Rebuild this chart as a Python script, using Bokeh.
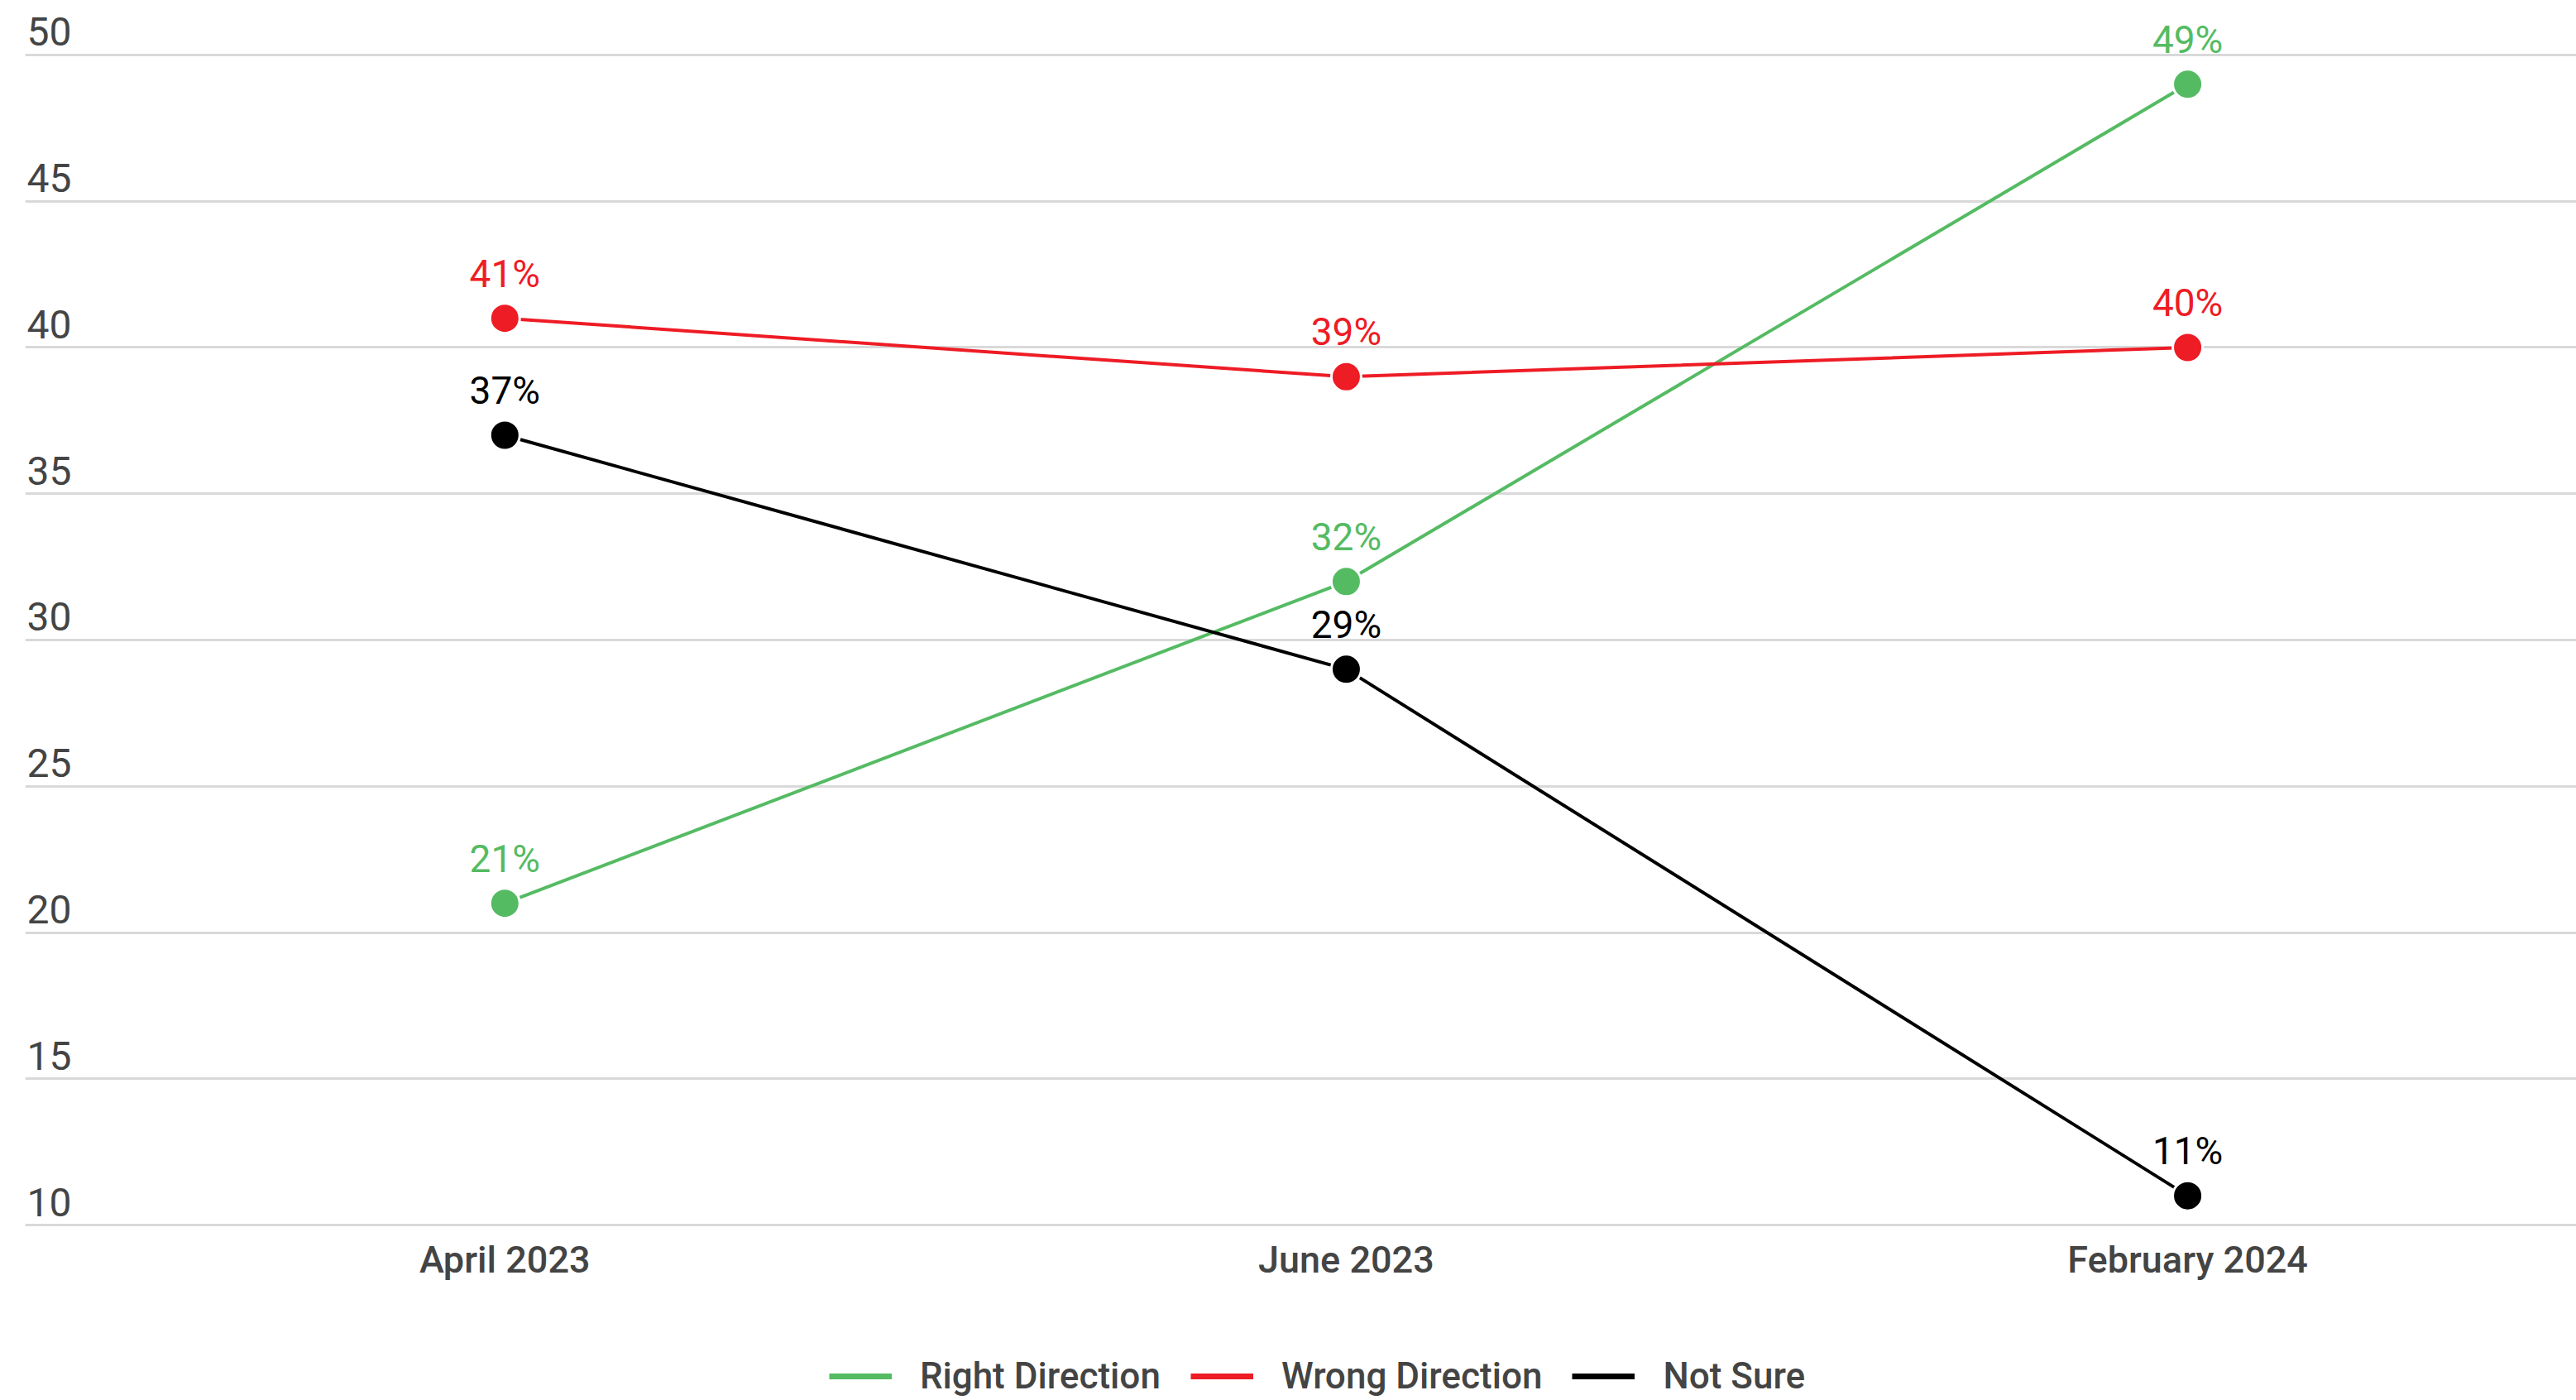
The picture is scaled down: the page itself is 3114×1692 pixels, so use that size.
from bokeh.plotting import figure
from bokeh.models import Range1d, FixedTicker, Grid, Legend, LegendItem, ColumnDataSource
from bokeh.layouts import column
from bokeh.core.properties import value
from bokeh.embed import file_html
from bokeh.resources import INLINE

categories = ["April 2023", "June 2023", "February 2024"]
right_direction = [21, 32, 49]
wrong_direction = [41, 39, 40]
not_sure = [37, 29, 11]
y_ticks = [10, 15, 20, 25, 30, 35, 40, 45, 50]
y_tick_labels = ["10", "15", "20", "25", "30", "35", "40", "45", "50"]

series = [
    ("Right Direction", right_direction, "#55BB63"),
    ("Wrong Direction", wrong_direction, "#EE1C25"),
    ("Not Sure", not_sure, "#000000"),
]

MEDIUM = "Roboto Medium"
X_START, X_END = -0.570, 2.462
Y_START, Y_END = 9.859, 51.64

p = figure(width=3114, height=1570, output_backend="svg", toolbar_location=None,
           x_range=Range1d(X_START, X_END), y_range=Range1d(Y_START, Y_END),
           y_axis_location=None, min_border_left=30, min_border_right=0,
           min_border_top=8, min_border_bottom=85)
p.outline_line_color = None
p.background_fill_color = "white"
p.xgrid.visible = False

grid = Grid(dimension=1, ticker=FixedTicker(ticks=y_ticks),
            grid_line_color="#D9D9D9", grid_line_width=3)
p.add_layout(grid)

xs = list(range(len(categories)))
ax = p.xaxis[0]
ax.ticker = FixedTicker(ticks=xs)
ax.major_label_overrides = {i: c for i, c in enumerate(categories)}
ax.axis_line_color = None
ax.major_tick_line_color = None
ax.minor_tick_line_color = None
ax.major_tick_out = 0
ax.major_tick_in = 0
ax.major_label_standoff = 10
ax.major_label_text_font = MEDIUM
ax.major_label_text_font_size = "45px"
ax.major_label_text_color = "#444444"

# y tick labels, sitting above the grid lines at the left edge
ysrc = ColumnDataSource(dict(x=[X_START] * len(y_ticks), y=y_ticks, t=y_tick_labels))
p.text(x="x", y="y", text="t", source=ysrc, x_offset=2, y_offset=-28,
       text_align="left", text_baseline="alphabetic",
       text_font=value("Roboto"), text_font_size="48px", text_color="#444444")

items = []
lf = figure(width=3114, height=122, output_backend="svg", toolbar_location=None,
            x_range=Range1d(-100, -99), y_range=Range1d(-100, -99),
            x_axis_location=None, y_axis_location=None,
            min_border=0, min_border_left=0, min_border_right=0,
            min_border_top=0, min_border_bottom=0)
lf.outline_line_color = None
lf.xgrid.visible = False
lf.ygrid.visible = False

for name, vals, color in series:
    src = ColumnDataSource(dict(x=xs, y=vals, lab=[f"{v}%" for v in vals]))
    p.line(x="x", y="y", source=src, line_color=color, line_width=4)
    p.scatter(x="x", y="y", source=src, size=36, fill_color=color,
              line_color="white", line_width=3)
    p.text(x="x", y="y", text="lab", source=src, y_offset=-54,
           text_align="center", text_baseline="alphabetic",
           text_font=value("Roboto"), text_font_size="46px", text_color=color)
    # same series in the legend strip (outside its visible range): only its legend glyph shows
    leg = lf.line(x="x", y="y", source=src, line_color=color, line_width=7)
    items.append(LegendItem(label=name, renderers=[leg]))

legend = Legend(items=items, orientation="horizontal", location=(972, 3),
                padding=0, margin=0, spacing=36, label_standoff=34,
                glyph_width=76, glyph_height=50, label_height=50,
                label_text_font=MEDIUM,
                label_text_font_size="44px", label_text_color="#444444",
                border_line_color=None, background_fill_alpha=0)
lf.add_layout(legend, "center")

layout = column(p, lf, spacing=0)
open("out.html", "w").write(file_html(layout, INLINE))
